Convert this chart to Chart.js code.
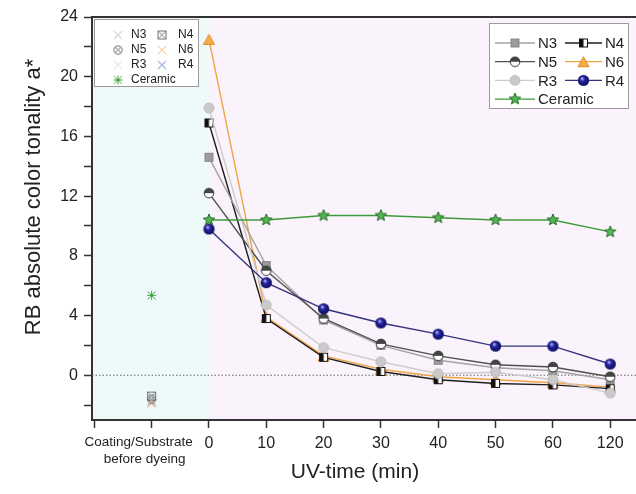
<!DOCTYPE html>
<html>
<head>
<meta charset="utf-8">
<script src="https://cdn.jsdelivr.net/npm/chart.js@4.4.0/dist/chart.umd.min.js"></script>
<style>
  html, body { margin: 0; padding: 0; background: #fff; }
</style>
</head>
<body>
<canvas id="tonality" width="636" height="494"></canvas>
<script>
// x categories (UV exposure, min) and the extra "before dyeing" slot
const uvTimes = ['0', '10', '20', '30', '40', '50', '60', '120']
const beforeLabel = ['Coating/Substrate', 'before dyeing']

const names = ['N3', 'N4', 'N5', 'N6', 'R3', 'R4', 'Ceramic']

// a* values at each UV time
const n3 = [14.6, 7.35, 3.7, 2.0, 1.0, 0.5, 0.3, -0.3]
const n4 = [16.9, 3.8, 1.2, 0.25, -0.3, -0.55, -0.65, -0.9]
const n5 = [12.2, 7.0, 3.8, 2.1, 1.3, 0.7, 0.55, -0.1]
const n6 = [22.5, 3.9, 1.3, 0.4, -0.1, -0.3, -0.5, -0.8]
const r3 = [17.9, 4.7, 1.85, 0.9, 0.1, 0.2, -0.3, -1.2]
const r4 = [9.8, 6.2, 4.45, 3.5, 2.75, 1.95, 1.95, 0.75]
const ceramic = [10.4, 10.4, 10.7, 10.7, 10.55, 10.4, 10.4, 9.6]

// a* of the coating / substrate before dyeing, same order as names
const beforeDyeing = [-1.7, -1.4, -1.6, -1.9, -1.8, -1.8, 5.35]

const series = [n3, n4, n5, n6, r3, r4, ceramic]

const lineColors = {
    N3: '#a3a3a3', N4: '#1e1e1e', N5: '#505050', N6: '#f2a445',
    R3: '#cdcdcd', R4: '#34347e', Ceramic: '#3c9a3c'
}

const marker = (size, paint) => {
    const c = document.createElement('canvas')
    c.width = size
    c.height = size
    const g = c.getContext('2d')
    paint(g, size / 2)
    return c
}

const circle = (g, h, r) => { g.beginPath(); g.arc(h, h, r, 0, Math.PI * 2) }

const lineMarkers = {
    N3: marker(11, (g, h) => {
        g.fillStyle = '#9b9b9b'; g.strokeStyle = '#888'
        g.fillRect(1.5, 1.5, 8, 8); g.strokeRect(1.5, 1.5, 8, 8)
    }),
    N4: marker(11, (g, h) => {
        g.fillStyle = '#fff'; g.fillRect(1.5, 1.5, 8, 8)
        g.fillStyle = '#111'; g.fillRect(1.5, 1.5, 4, 8)
        g.strokeStyle = '#111'; g.lineWidth = 1; g.strokeRect(1.5, 1.5, 8, 8)
    }),
    N5: marker(12, (g, h) => {
        circle(g, h, 4.8); g.fillStyle = '#fff'; g.fill()
        g.beginPath(); g.arc(h, h, 4.8, Math.PI, 0); g.closePath()
        g.fillStyle = '#444'; g.fill()
        circle(g, h, 4.8); g.strokeStyle = '#333'; g.stroke()
    }),
    N6: marker(13, (g, h) => {
        g.beginPath(); g.moveTo(h, 1.5); g.lineTo(12, 11.5); g.lineTo(1, 11.5); g.closePath()
        g.fillStyle = '#f6aa48'; g.fill(); g.strokeStyle = '#e08a28'; g.stroke()
    }),
    R3: marker(12, (g, h) => {
        circle(g, h, 5); g.fillStyle = '#cacaca'; g.fill()
        g.strokeStyle = '#bdbdbd'; g.stroke()
    }),
    R4: marker(13, (g, h) => {
        const grad = g.createRadialGradient(h - 1.5, h - 2, 0.5, h, h, 6)
        grad.addColorStop(0, '#a8a8f0'); grad.addColorStop(0.35, '#2424a0'); grad.addColorStop(1, '#0a0a55')
        circle(g, h, 5.6); g.fillStyle = grad; g.fill()
    }),
    Ceramic: marker(14, (g, h) => {
        g.beginPath()
        for (let i = 0; i < 10; i++) {
            const r = i % 2 ? 2.6 : 6
            const a = -Math.PI / 2 + i * Math.PI / 5
            g.lineTo(h + r * Math.cos(a), h + r * Math.sin(a))
        }
        g.closePath(); g.fillStyle = '#55b455'; g.fill()
        g.strokeStyle = '#1f6a1f'; g.lineWidth = 1; g.stroke()
    })
}

const cross = (g, h, r) => {
    g.beginPath()
    g.moveTo(h - r, h - r); g.lineTo(h + r, h + r)
    g.moveTo(h + r, h - r); g.lineTo(h - r, h + r)
    g.stroke()
}

const beforeMarkers = {
    N3: marker(11, (g, h) => { g.strokeStyle = '#b3b3b3'; cross(g, h, 4) }),
    N4: marker(11, (g, h) => {
        g.strokeStyle = '#707070'; g.strokeRect(1.5, 1.5, 8, 8); cross(g, h, 3)
    }),
    N5: marker(11, (g, h) => {
        g.strokeStyle = '#6a6a6a'; circle(g, h, 4.2); g.stroke(); cross(g, h, 3)
    }),
    N6: marker(11, (g, h) => { g.strokeStyle = '#f0a868'; cross(g, h, 4) }),
    R3: marker(11, (g, h) => { g.strokeStyle = '#d8d8d8'; cross(g, h, 4) }),
    R4: marker(11, (g, h) => { g.strokeStyle = '#5a74c6'; cross(g, h, 4) }),
    Ceramic: marker(11, (g, h) => {
        g.strokeStyle = '#3ea63e'; cross(g, h, 4)
        g.beginPath(); g.moveTo(h - 4.5, h); g.lineTo(h + 4.5, h)
        g.moveTo(h, h - 4.5); g.lineTo(h, h + 4.5); g.stroke()
    })
}

const beforeSets = names.map((name, i) => ({
    label: name + ' before dyeing',
    data: [{x: -1, y: beforeDyeing[i]}],
    showLine: false,
    pointStyle: beforeMarkers[name],
    borderColor: lineColors[name]
}))

const drawOrder = ['Ceramic', 'R4', 'R3', 'N5', 'N3', 'N4', 'N6']
const lineSets = drawOrder.map(name => ({
    label: name,
    data: series[names.indexOf(name)].map((v, i) => ({x: i, y: v})),
    borderColor: lineColors[name],
    backgroundColor: lineColors[name],
    borderWidth: 1.4,
    pointStyle: lineMarkers[name]
}))

const font = "'Liberation Sans', Arial, sans-serif"
Chart.defaults.font.family = font
Chart.defaults.color = '#222'

const decor = {
    id: 'decor',
    beforeDraw(chart) {
        const {ctx, chartArea: a, scales: {x}} = chart
        const x0 = x.getPixelForValue(0)
        ctx.save()
        ctx.fillStyle = '#eefafa'
        ctx.fillRect(a.left, a.top, x0 - a.left, a.bottom - a.top)
        ctx.fillStyle = '#fbf3fb'
        ctx.fillRect(x0, a.top, a.right - x0, a.bottom - a.top)
        ctx.restore()
    },
    beforeDatasetsDraw(chart) {
        const {ctx, chartArea: a, scales: {y}} = chart
        const y0 = y.getPixelForValue(0)
        ctx.save()
        ctx.setLineDash([1.5, 2])
        ctx.strokeStyle = '#666'
        ctx.lineWidth = 1
        ctx.beginPath(); ctx.moveTo(a.left, y0); ctx.lineTo(a.right, y0); ctx.stroke()
        ctx.restore()
    },
    afterDraw(chart) {
        const {ctx, chartArea: a, scales: {x}} = chart
        ctx.save()
        // top frame
        ctx.strokeStyle = '#333'; ctx.lineWidth = 2
        ctx.beginPath(); ctx.moveTo(a.left - 1, a.top); ctx.lineTo(a.right, a.top); ctx.stroke()

        // label of the before-dyeing slot, sits a little left of its tick
        ctx.fillStyle = '#222'
        ctx.textAlign = 'center'; ctx.textBaseline = 'middle'
        ctx.font = '13.5px ' + font
        const xb = x.getPixelForValue(-1)
        ctx.fillText(beforeLabel[0], xb - 13, a.bottom + 22)
        ctx.fillText(beforeLabel[1], xb - 7, a.bottom + 39)

        // axis titles
        ctx.font = '21px ' + font
        ctx.fillText('UV-time (min)', 355, 472)
        ctx.translate(34, 197); ctx.rotate(-Math.PI / 2)
        ctx.font = '22px ' + font
        ctx.fillText('RB absolute color tonality a*', 0, 0)
        ctx.restore()

        // legend for the before-dyeing markers
        ctx.save()
        ctx.fillStyle = '#fff'; ctx.strokeStyle = '#9a9a9a'; ctx.lineWidth = 1
        ctx.fillRect(94.5, 19.5, 104, 67); ctx.strokeRect(94.5, 19.5, 104, 67)
        ctx.font = '12px ' + font; ctx.textBaseline = 'middle'; ctx.fillStyle = '#222'
        const grid1 = [['N3', 'N4'], ['N5', 'N6'], ['R3', 'R4'], ['Ceramic']]
        grid1.forEach((row, r) => row.forEach((name, c) => {
            const yy = 35 + r * 15
            const mk = beforeMarkers[name]
            ctx.drawImage(mk, (c ? 162 : 118) - mk.width / 2, yy - mk.height / 2)
            ctx.fillText(name, c ? 178 : 131, yy)
        }))
        ctx.restore()

        // legend for the UV series
        ctx.save()
        ctx.fillStyle = '#fff'; ctx.strokeStyle = '#9a9a9a'; ctx.lineWidth = 1
        ctx.fillRect(489.5, 23.5, 139, 85); ctx.strokeRect(489.5, 23.5, 139, 85)
        ctx.font = '15px ' + font; ctx.textBaseline = 'middle'
        grid1.forEach((row, r) => row.forEach((name, c) => {
            const yy = 43 + r * 18.7
            const x1 = c ? 565 : 495, x2 = c ? 602 : 535
            ctx.strokeStyle = lineColors[name]; ctx.lineWidth = 1.3
            ctx.beginPath(); ctx.moveTo(x1, yy); ctx.lineTo(x2, yy); ctx.stroke()
            const mk = lineMarkers[name]
            ctx.drawImage(mk, (x1 + x2) / 2 - mk.width / 2, yy - mk.height / 2)
            ctx.fillStyle = '#222'
            ctx.fillText(name, c ? 605 : 538, yy + 1)
        }))
        ctx.restore()
    }
}

const ctx = document.querySelector('#tonality')
const tonalityChart = new Chart(ctx, {
    type: 'line',
    data: {datasets: [...beforeSets, ...lineSets]},
    plugins: [decor],
    options: {
        responsive: false,
        animation: false,
        devicePixelRatio: 1,
        layout: {autoPadding: false, padding: {top: 17, right: 0, left: 0, bottom: 0}},
        plugins: {legend: {display: false}, tooltip: {enabled: false}},
        scales: {
            x: {
                type: 'linear',
                min: -2.04,
                max: 7.45,
                afterFit: scale => {
                    scale.height = 74
                    scale.paddingLeft = 0
                    scale.paddingRight = 0
                },
                afterBuildTicks: scale => {
                    scale.ticks = [-2, -1, 0, 1, 2, 3, 4, 5, 6, 7].map(v => ({value: v}))
                },
                border: {color: '#333', width: 2},
                grid: {drawOnChartArea: false, tickLength: 8, tickColor: '#333', tickWidth: 1.5},
                ticks: {
                    autoSkip: false,
                    maxRotation: 0,
                    padding: 6,
                    color: '#222',
                    font: {size: 16},
                    callback: v => v >= 0 ? uvTimes[v] : ''
                }
            },
            y: {
                min: -3,
                max: 24,
                afterFit: scale => {
                    scale.width = 92
                    scale.paddingTop = 0
                    scale.paddingBottom = 0
                },
                afterBuildTicks: scale => {
                    const t = []
                    for (let v = -2; v <= 24; v += 2) t.push({value: v})
                    scale.ticks = t
                },
                border: {color: '#333', width: 2},
                grid: {drawOnChartArea: false, tickLength: 8, tickColor: '#333', tickWidth: 1.5},
                ticks: {
                    padding: 6,
                    color: '#222',
                    font: {size: 16},
                    callback: v => v % 4 === 0 ? String(v) : ''
                }
            }
        }
    }
})
</script>
</body>
</html>
